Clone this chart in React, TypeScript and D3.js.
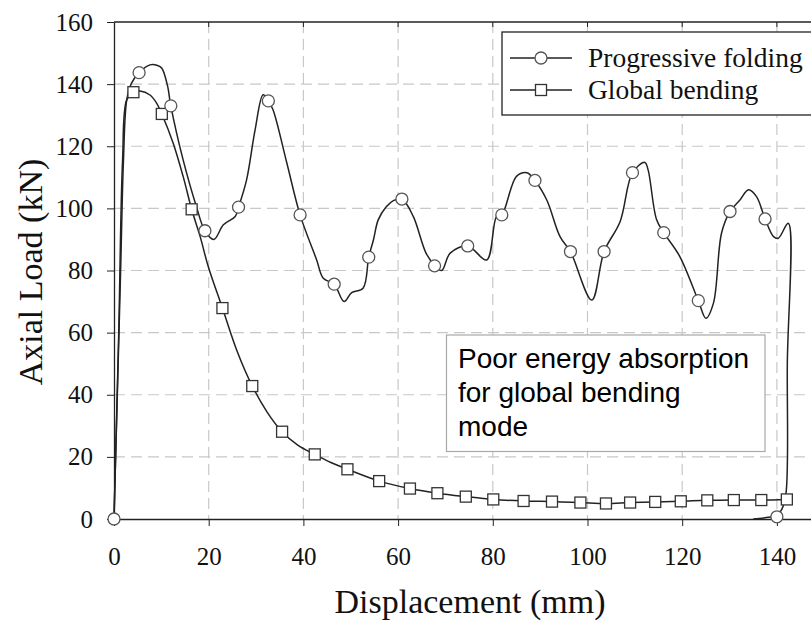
import React, { useEffect, useRef } from "react";
import * as d3 from "d3";

// progressive folding curve (mm, kN)
const progX = [0, 0.7, 1.4, 2.0, 2.7, 3.7, 5.3, 7.6, 9.2, 10.1, 11.3, 12.0, 14.6, 17.4, 19.2, 21.1, 23.1, 25.6, 26.3, 28.0, 29.8, 31.5, 32.6, 33.6, 36.5, 39.3, 42.8, 44.2, 46.5, 48.6, 50.2, 52.6, 53.8, 54.8, 55.8, 57.5, 59.0, 60.8, 63.2, 65.9, 67.8, 69.2, 71.0, 74.7, 78.7, 80.8, 81.9, 85.0, 87.2, 88.9, 91.4, 94.2, 96.4, 100.9, 103.5, 106.9, 109.5, 112.1, 112.8, 114.6, 116.1, 119.5, 123.4, 125.0, 126.6, 128.3, 130.1, 132.2, 134.0, 135.7, 137.5, 139.3, 140.3, 142.4, 142.2, 141.9, 141.0, 140.0, 137.5, 135.0];
const progY = [0, 40, 80, 115.6, 135, 140.3, 143.7, 146.2, 146, 145.1, 139.5, 133, 115.6, 100.6, 92.8, 90.0, 94.7, 97.4, 100.4, 109.2, 125.3, 136.6, 134.6, 131.7, 114.6, 97.9, 83.4, 77.5, 75.6, 70.0, 72.9, 74.3, 84.3, 89.9, 96.3, 100.5, 102.5, 103, 97.4, 85.6, 81.5, 80.0, 85.6, 87.9, 83.4, 97.4, 97.9, 110.3, 111.5, 109.0, 102.7, 90.9, 86.1, 70.5, 86.1, 95.8, 111.5, 114.8, 112.4, 96.3, 92.2, 84.5, 70.3, 64.6, 69.5, 92.0, 99.0, 102.7, 106.0, 103.8, 96.6, 90.9, 90.4, 95.2, 50, 8, 3, 1.2, 0.4, 0];
const progMarkX = [0, 5.3, 12.0, 19.2, 26.3, 32.6, 39.3, 46.5, 53.8, 60.8, 67.7, 74.7, 81.9, 88.9, 96.4, 103.5, 109.5, 116.1, 123.4, 130.1, 137.5, 140.0];
const progMarkY = [0, 143.7, 133, 92.8, 100.4, 134.6, 97.9, 75.6, 84.3, 103, 81.5, 87.9, 97.9, 109, 86.1, 86.1, 111.5, 92.2, 70.3, 99, 96.6, 0.7];

// global bending curve
const globX = [0, 1.0, 1.8, 2.7, 4.1, 5.5, 7.6, 9.0, 10.1, 12.5, 14.6, 16.4, 18.2, 19.9, 22.9, 26.0, 29.2, 32.3, 35.5, 38.8, 42.4, 45.8, 49.3, 56.0, 62.5, 68.3, 74.3, 80.1, 86.5, 92.5, 98.5, 103.9, 109.0, 114.3, 119.7, 125.3, 130.9, 136.7, 142.1];
const globY = [0, 60, 115, 135, 137.4, 137.8, 136.5, 133.9, 130.4, 121, 110.3, 99.7, 90.9, 81.3, 67.9, 54, 42.8, 34.5, 28.1, 23.8, 20.8, 18.2, 16.0, 12.2, 9.8, 8.3, 7.2, 6.3, 5.8, 5.6, 5.3, 5.0, 5.3, 5.5, 5.7, 6.0, 6.1, 6.1, 6.3];
const globMarkX = [4.1, 10.1, 16.4, 22.9, 29.2, 35.5, 42.4, 49.3, 56.0, 62.5, 68.3, 74.3, 80.1, 86.5, 92.5, 98.5, 103.9, 109.0, 114.3, 119.7, 125.3, 130.9, 136.7, 142.1];
const globMarkY = [137.4, 130.4, 99.7, 67.9, 42.8, 28.1, 20.8, 16.0, 12.2, 9.8, 8.3, 7.2, 6.3, 5.8, 5.6, 5.3, 5.0, 5.3, 5.5, 5.7, 6.0, 6.1, 6.1, 6.3];

const xTicks = [0, 20, 40, 60, 80, 100, 120, 140];
const yTicks = [0, 20, 40, 60, 80, 100, 120, 140, 160];
const seriesNames = ["Progressive folding", "Global bending"];
const noteLines = ["Poor energy absorption", "for global bending", "mode"];

const W = 811;
const H = 622;

const App = () => {
  const ref = useRef(null);

  useEffect(() => {
    ref.current.innerHTML = "";
    const svg = d3.select(ref.current);
    const serif = "'Liberation Serif', 'Times New Roman', serif";
    const ink = "#222";

    const x = d3.scaleLinear().domain([0, 150]).range([114, 824.25]);
    const y = d3.scaleLinear().domain([0, 160]).range([519, 22]);

    svg.append("rect").attr("width", W).attr("height", H).attr("fill", "#fff");

    // grid
    const grid = svg.append("g").attr("stroke", "#c8c8c8").attr("stroke-width", 1.2).attr("stroke-dasharray", "11,6");
    grid.selectAll(".gx").data(xTicks.filter(d => d > 0)).enter().append("line")
      .attr("x1", d => x(d)).attr("x2", d => x(d)).attr("y1", y(160)).attr("y2", y(0));
    grid.selectAll(".gy").data(yTicks.filter(d => d > 0 && d < 160)).enter().append("line")
      .attr("x1", x(0)).attr("x2", x(150)).attr("y1", d => y(d)).attr("y2", d => y(d));

    // top frame with inward ticks
    svg.append("line").attr("x1", x(0)).attr("x2", x(150)).attr("y1", y(160)).attr("y2", y(160))
      .attr("stroke", ink).attr("stroke-width", 1.3);
    svg.selectAll(".tt").data(xTicks.filter(d => d > 0)).enter().append("line")
      .attr("x1", d => x(d)).attr("x2", d => x(d)).attr("y1", y(160)).attr("y2", y(160) + 5)
      .attr("stroke", ink).attr("stroke-width", 1);

    // note box
    const note = svg.append("g");
    note.append("rect").attr("x", 446.5).attr("y", 335).attr("width", 318.5).attr("height", 116.5)
      .attr("fill", "#fff").attr("stroke", "#a8a8a8").attr("stroke-width", 1.2);
    note.selectAll("text").data(noteLines).enter().append("text")
      .attr("x", 458).attr("y", (d, i) => 367.5 + i * 34)
      .attr("font-family", "'Liberation Sans', Arial, sans-serif").attr("font-size", 28).attr("fill", "#000")
      .text(d => d);

    // axes
    const xAxis = svg.append("g").attr("transform", `translate(0,${y(0)})`)
      .call(d3.axisBottom(x).tickValues(xTicks).tickSize(7).tickSizeOuter(0).tickPadding(21));
    const yAxis = svg.append("g").attr("transform", `translate(${x(0)},0)`)
      .call(d3.axisLeft(y).tickValues(yTicks).tickSize(7).tickSizeOuter(0).tickPadding(14));
    [xAxis, yAxis].forEach(a => {
      a.selectAll("path").attr("stroke", ink).attr("stroke-width", 1.3);
      a.selectAll("line").attr("stroke", ink).attr("stroke-width", 1);
      a.selectAll("text").attr("font-family", serif).attr("font-size", 25).attr("fill", "#111");
    });

    // lines
    const line = d3.line().x(d => x(d[0])).y(d => y(d[1])).curve(d3.curveCatmullRom.alpha(0.5));
    const prog = progX.map((v, i) => [v, progY[i]]);
    const glob = globX.map((v, i) => [v, globY[i]]);
    svg.append("path").attr("d", line(glob)).attr("fill", "none").attr("stroke", ink).attr("stroke-width", 1.5);
    svg.append("path").attr("d", line(prog)).attr("fill", "none").attr("stroke", ink).attr("stroke-width", 1.5);

    // markers
    svg.selectAll(".sq").data(globMarkX.map((v, i) => [v, globMarkY[i]])).enter().append("rect")
      .attr("x", d => x(d[0]) - 5.5).attr("y", d => y(d[1]) - 5.5).attr("width", 11).attr("height", 11)
      .attr("fill", "#fff").attr("stroke", "#333").attr("stroke-width", 1.3);
    svg.selectAll(".ci").data(progMarkX.map((v, i) => [v, progMarkY[i]])).enter().append("circle")
      .attr("cx", d => x(d[0])).attr("cy", d => y(d[1])).attr("r", 6)
      .attr("fill", "#fff").attr("stroke", "#555").attr("stroke-width", 1.3);

    // legend
    const lg = svg.append("g");
    lg.append("rect").attr("x", 502).attr("y", 32).attr("width", 340).attr("height", 83)
      .attr("fill", "#fff").attr("stroke", ink).attr("stroke-width", 1.3);
    seriesNames.forEach((name, i) => {
      const cy = 58 + i * 32;
      lg.append("line").attr("x1", 510).attr("x2", 572).attr("y1", cy).attr("y2", cy)
        .attr("stroke", ink).attr("stroke-width", 1.3);
      if (i === 0) {
        lg.append("circle").attr("cx", 541).attr("cy", cy).attr("r", 6)
          .attr("fill", "#fff").attr("stroke", "#555").attr("stroke-width", 1.3);
      } else {
        lg.append("rect").attr("x", 535.5).attr("y", cy - 5.5).attr("width", 11).attr("height", 11)
          .attr("fill", "#fff").attr("stroke", "#333").attr("stroke-width", 1.3);
      }
      lg.append("text").attr("x", 588).attr("y", cy + 9).attr("font-family", serif).attr("font-size", 27.5)
        .attr("fill", "#111").text(name);
    });

    // axis titles
    svg.append("text").attr("x", 470).attr("y", 613).attr("text-anchor", "middle")
      .attr("font-family", serif).attr("font-size", 34).attr("fill", "#111").text("Displacement (mm)");
    svg.append("text").attr("transform", `translate(42,272) rotate(-90)`).attr("text-anchor", "middle")
      .attr("font-family", serif).attr("font-size", 34).attr("fill", "#111").text("Axial Load (kN)");
  }, []);

  return (
    <svg ref={ref} width={W} height={H} style={{ position: "absolute", left: 0, top: 0 }} />
  );
};

export default App;
